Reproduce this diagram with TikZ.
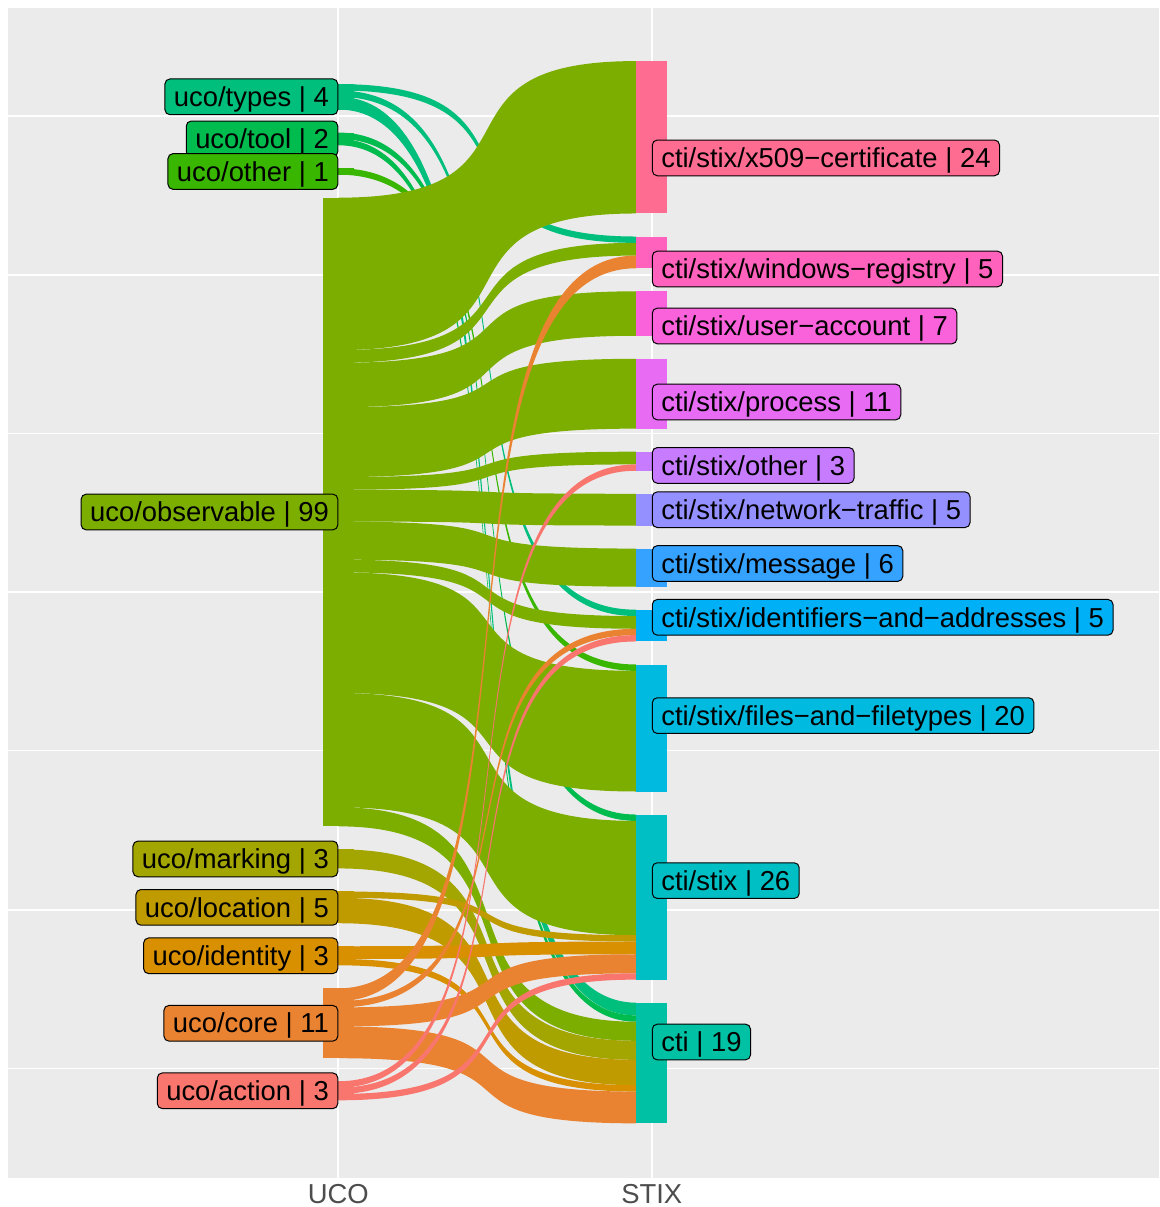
\documentclass[tikz,border=0pt]{standalone}
\usepackage{fontspec}
\setmainfont{Liberation Sans}
\definecolor{panelgray}{HTML}{EBEBEB}
\definecolor{axgray}{HTML}{4D4D4D}
\definecolor{cAction}{HTML}{F8766D}
\definecolor{cCore}{HTML}{EA8331}
\definecolor{cIdent}{HTML}{D89000}
\definecolor{cLoc}{HTML}{C09B00}
\definecolor{cMark}{HTML}{A3A500}
\definecolor{cObs}{HTML}{7CAE00}
\definecolor{cOther}{HTML}{39B600}
\definecolor{cTool}{HTML}{00BB4E}
\definecolor{cTypes}{HTML}{00BF7D}
\definecolor{cCti}{HTML}{00C1A3}
\definecolor{cCs}{HTML}{00BFC4}
\definecolor{cFiles}{HTML}{00BAE0}
\definecolor{cIdf}{HTML}{00B0F6}
\definecolor{cMsg}{HTML}{35A2FF}
\definecolor{cNt}{HTML}{9590FF}
\definecolor{cSoth}{HTML}{C77CFF}
\definecolor{cProc}{HTML}{E76BF3}
\definecolor{cUa}{HTML}{FA62DB}
\definecolor{cWr}{HTML}{FF62BC}
\definecolor{cXcert}{HTML}{FF6C91}
\newcommand\labfont{\fontsize{27.4}{32}\selectfont}
\def\U{6.35}
\pgfdeclarelayer{back}
\pgfdeclarelayer{flowlayer}
\pgfsetlayers{back,flowlayer,main}
% flow band: source node, target node, units, colour
\newcommand\flow[4]{%
  \pgfmathsetmacro\fa{\csname off#1\endcsname*\U}%
  \pgfmathsetmacro\fb{(\csname off#1\endcsname+#3)*\U}%
  \pgfmathsetmacro\fc{\csname off#2\endcsname*\U}%
  \pgfmathsetmacro\fd{(\csname off#2\endcsname+#3)*\U}%
  \fill[#4] ([yshift=-\fa pt]#1.north) .. controls +(223,0) and +(-223,0) .. ([yshift=-\fc pt]#2.north west)
     -- ([yshift=-\fd pt]#2.north west) .. controls +(-223,0) and +(223,0) .. ([yshift=-\fb pt]#1.north) -- cycle;
  \pgfmathsetmacro\tmpo{\csname off#1\endcsname+#3}\expandafter\xdef\csname off#1\endcsname{\tmpo}%
  \pgfmathsetmacro\tmpo{\csname off#2\endcsname+#3}\expandafter\xdef\csname off#2\endcsname{\tmpo}%
}
\newcommand\lnode[4]{\node[stratum, fill=#4, minimum height={#3*\U pt}, anchor=north] (#1) at (338.3,#2) {};\expandafter\xdef\csname off#1\endcsname{0}}
\newcommand\rnode[4]{\node[stratum, fill=#4, minimum height={#3*\U pt}, anchor=north] (#1) at (651.8,#2) {};\expandafter\xdef\csname off#1\endcsname{0}}
\begin{document}
\begin{tikzpicture}[x=1pt,y=-1pt,
  stratum/.style={rectangle, inner sep=0pt, outer sep=0pt, minimum width=31.35pt},
  lab/.style={draw=black, line width=1pt, rounded corners=5pt, inner xsep=9pt, inner ysep=3.55pt,
    text height=24pt, text depth=4.6pt, font=\labfont, text=black},
  axlab/.style={font=\labfont, text=axgray, inner sep=0pt, anchor=base},
  majgrid/.style={white, line width=2.1pt},
  mingrid/.style={white, line width=1.05pt}]
\useasboundingbox (0,0) rectangle (1159,1207);
\begin{pgfonlayer}{back}
  \fill[white] (0,0) rectangle (1159,1207);
  \fill[panelgray] (8,8) rectangle (1159,1177.5);
  \foreach \yy in {116,433.45,750.95,1068.45} \draw[mingrid] (8,\yy) -- (1159,\yy);
  \foreach \yy in {274.7,592.2,909.7} \draw[majgrid] (8,\yy) -- (1159,\yy);
  \foreach \xx in {338.3,651.8} \draw[majgrid] (\xx,8) -- (\xx,1177.5);
\end{pgfonlayer}
% UCO strata
\lnode{ltypes}{84.115}{4}{cTypes}
\lnode{ltool}{132.555}{2}{cTool}
\lnode{lother}{168.295}{1}{cOther}
\lnode{lobs}{197.685}{99}{cObs}
\lnode{lmark}{849.375}{3}{cMark}
\lnode{lloc}{891.465}{5}{cLoc}
\lnode{lident}{946.255}{3}{cIdent}
\lnode{lcore}{988.345}{11}{cCore}
\lnode{laction}{1081.235}{3}{cAction}
% STIX strata
\rnode{rxc}{61.075}{24}{cXcert}
\rnode{rwr}{236.515}{5}{cWr}
\rnode{rua}{291.305}{7}{cUa}
\rnode{rproc}{358.795}{11}{cProc}
\rnode{rsoth}{451.685}{3}{cSoth}
\rnode{rnt}{493.775}{5}{cNt}
\rnode{rmsg}{548.565}{6}{cMsg}
\rnode{ridf}{609.705}{5}{cIdf}
\rnode{rfiles}{664.495}{20}{cFiles}
\rnode{rcs}{814.535}{26}{cCs}
\rnode{rcti}{1002.675}{19}{cCti}
\begin{pgfonlayer}{flowlayer}
\flow{ltypes}{rwr}{1}{cTypes}
\flow{ltypes}{ridf}{1}{cTypes}
\flow{ltypes}{rcti}{2}{cTypes}
\flow{ltool}{rcs}{1}{cTool}
\flow{ltool}{rcti}{1}{cTool}
\flow{lother}{rfiles}{1}{cOther}
\flow{lobs}{rxc}{24}{cObs}
\flow{lobs}{rwr}{2}{cObs}
\flow{lobs}{rua}{7}{cObs}
\flow{lobs}{rproc}{11}{cObs}
\flow{lobs}{rsoth}{2}{cObs}
\flow{lobs}{rnt}{5}{cObs}
\flow{lobs}{rmsg}{6}{cObs}
\flow{lobs}{ridf}{2}{cObs}
\flow{lobs}{rfiles}{19}{cObs}
\flow{lobs}{rcs}{18}{cObs}
\flow{lobs}{rcti}{3}{cObs}
\flow{lmark}{rcti}{3}{cMark}
\flow{lloc}{rcs}{1}{cLoc}
\flow{lloc}{rcti}{4}{cLoc}
\flow{lident}{rcs}{2}{cIdent}
\flow{lident}{rcti}{1}{cIdent}
\flow{lcore}{rwr}{2}{cCore}
\flow{lcore}{ridf}{1}{cCore}
\flow{lcore}{rcs}{3}{cCore}
\flow{lcore}{rcti}{5}{cCore}
\flow{laction}{rsoth}{1}{cAction}
\flow{laction}{ridf}{1}{cAction}
\flow{laction}{rcs}{1}{cAction}
\end{pgfonlayer}
% UCO labels
\node[lab, fill=cTypes, anchor=east] (t-types) at (ltypes.center) {uco/types | 4};
\node[lab, fill=cTool, anchor=east] (t-tool) at (ltool.center) {uco/tool | 2};
\node[lab, fill=cOther, anchor=east] (t-other) at (lother.center) {uco/other | 1};
\node[lab, fill=cObs, anchor=east] (t-obs) at (lobs.center) {uco/observable | 99};
\node[lab, fill=cMark, anchor=east] (t-mark) at (lmark.center) {uco/marking | 3};
\node[lab, fill=cLoc, anchor=east] (t-loc) at (lloc.center) {uco/location | 5};
\node[lab, fill=cIdent, anchor=east] (t-ident) at (lident.center) {uco/identity | 3};
\node[lab, fill=cCore, anchor=east] (t-core) at (lcore.center) {uco/core | 11};
\node[lab, fill=cAction, anchor=east] (t-action) at (laction.center) {uco/action | 3};
% STIX labels
\node[lab, fill=cXcert, anchor=west] (t-xc) at (651.8,157.9) {cti/stix/x509−certificate | 24};
\node[lab, fill=cWr, anchor=west] (t-wr) at (651.8,269.0) {cti/stix/windows−registry | 5};
\node[lab, fill=cUa, anchor=west] (t-ua) at (651.8,326.0) {cti/stix/user−account | 7};
\node[lab, fill=cProc, anchor=west] (t-proc) at (651.8,402.0) {cti/stix/process | 11};
\node[lab, fill=cSoth, anchor=west] (t-soth) at (651.8,465.4) {cti/stix/other | 3};
\node[lab, fill=cNt, anchor=west] (t-nt) at (651.8,509.7) {cti/stix/network−traffic | 5};
\node[lab, fill=cMsg, anchor=west] (t-msg) at (651.8,563.5) {cti/stix/message | 6};
\node[lab, fill=cIdf, anchor=west] (t-idf) at (651.8,617.3) {cti/stix/identifiers−and−addresses | 5};
\node[lab, fill=cFiles, anchor=west] (t-files) at (651.8,715.6) {cti/stix/files−and−filetypes | 20};
\node[lab, fill=cCs, anchor=west] (t-cs) at (651.8,880.6) {cti/stix | 26};
\node[lab, fill=cCti, anchor=west] (t-cti) at (651.8,1042.0) {cti | 19};
% axis labels
\node[axlab] (ax-uco) at (338.3,1203.3) {UCO};
\node[axlab] (ax-stix) at (651.8,1203.3) {STIX};
\end{tikzpicture}
\end{document}
